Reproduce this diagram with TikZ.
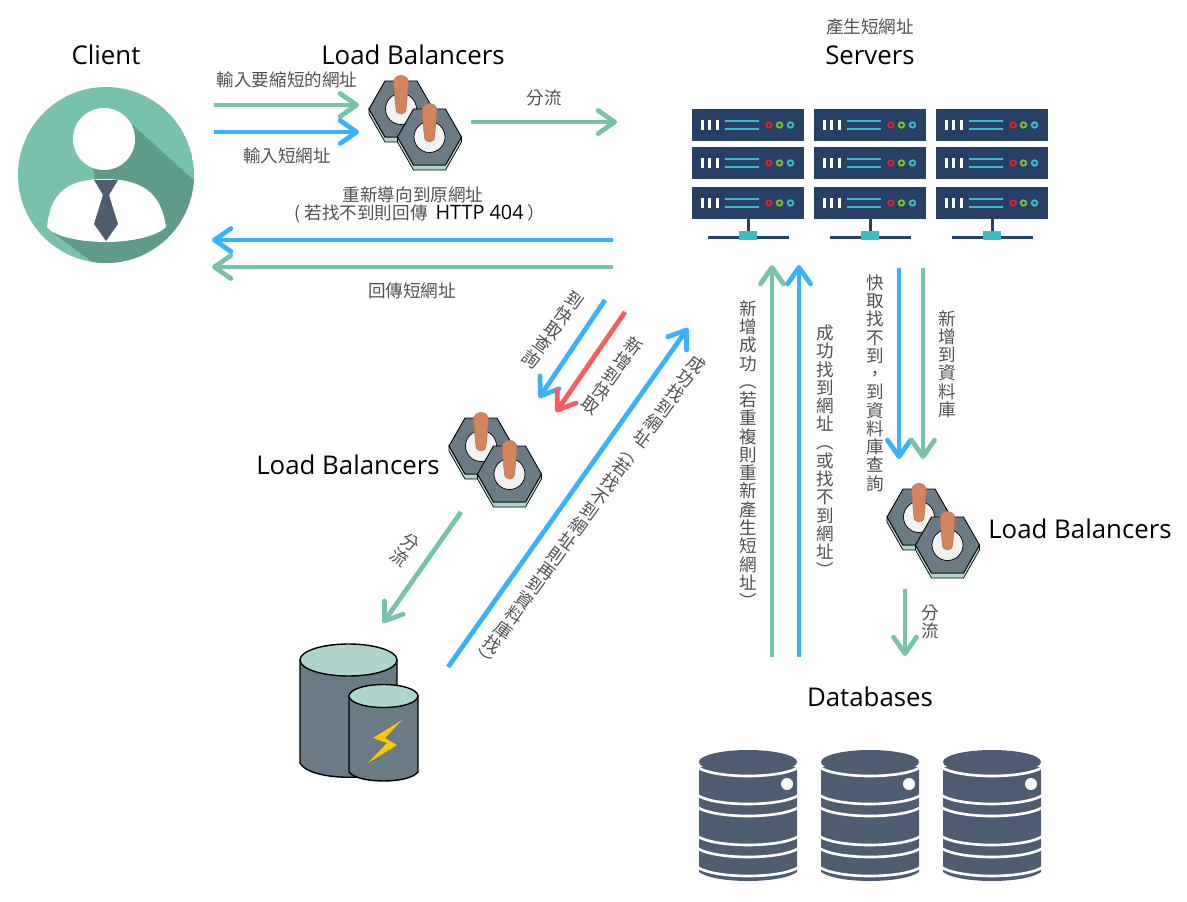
\documentclass[tikz,border=0pt]{standalone}
\usepackage{fontspec}
\setmainfont{Open Sans}
\newfontfamily\cjk{Noto Sans CJK TC}
\usetikzlibrary{arrows.meta}

\definecolor{flowgreen}{HTML}{78C2AD}
\definecolor{flowblue}{HTML}{38B1FF}
\definecolor{flowred}{HTML}{FF5A5F}
\definecolor{shadegreen}{HTML}{5F9B8A}
\definecolor{slate}{HTML}{4F5D73}
\definecolor{steel}{HTML}{6A7B85}
\definecolor{pale}{HTML}{AED5CB}
\definecolor{rack}{HTML}{274166}
\definecolor{teal}{HTML}{3ABCC7}
\definecolor{lever}{HTML}{D4845A}
\definecolor{lampred}{HTML}{D9262E}
\definecolor{lampgreen}{HTML}{82BE28}
\definecolor{bolt}{HTML}{FFC800}
\definecolor{txtgray}{HTML}{505050}

\newcommand{\opar}{\rotatebox[origin=c]{-90}{（}}
\newcommand{\cpar}{\rotatebox[origin=c]{-90}{）}}

\tikzset{
  flow/.style={line width=0.095cm, draw=#1, -{Straight Barb[length=0.33cm, width=0.46cm, line width=0.095cm, round]}},
  title/.style={font=\fontsize{14.7}{17}\selectfont, inner sep=0pt},
  hlabel/.style={font={\cjk\fontsize{10}{11}\selectfont}, text=txtgray, inner sep=0pt},
  vlabel/.style={font={\cjk\fontsize{10}{10.4}\selectfont\lineskiplimit=-20pt}, text=txtgray, inner sep=0pt, align=center},
  pics/lbhex/.style={code={
    \filldraw[fill=pale, line width=0.4pt] (-32,0) -- (-32,5) -- (-16,33) -- (16,33) -- (32,5) -- (32,0) -- (16,28) -- (-16,28) -- cycle;
    \filldraw[fill=steel, line width=0.5pt] (-32,0) -- (-16,-28) -- (16,-28) -- (32,0) -- (16,28) -- (-16,28) -- cycle;
    \filldraw[fill=black!5, line width=0.4pt] (0,0) circle [radius=15.5];
    \filldraw[fill=lever, draw=lever!85!black, line width=0.3pt] (-7.5,-26) .. controls (-7.5,-36) and (7.5,-36) .. (7.5,-26) -- (5,0) .. controls (5,6.5) and (-5,6.5) .. (-5,0) -- cycle;
  }},
  pics/lbalancer/.style={code={
    \pic at (0,0) {lbhex};
    \pic at (28.5,28) {lbhex};
  }},
  pics/rackunit/.style={code={
    \fill[rack] (0,0) rectangle (112,32);
    \foreach \x in {10,17.5,25} \fill[white] (\x-1.5,11) rectangle (\x+1.5,21);
    \fill[teal] (33,11) rectangle (67,13);
    \fill[teal] (33,19) rectangle (67,21);
    \filldraw[draw=lampred, fill=rack, line width=1.1pt] (77,16) circle [radius=2.7];
    \filldraw[draw=lampgreen, fill=rack, line width=1.1pt] (87.5,16) circle [radius=2.7];
    \filldraw[draw=teal, fill=rack, line width=1.1pt] (98.5,16) circle [radius=2.7];
  }},
  pics/server/.style={code={
    \pic at (0,0) {rackunit};
    \pic at (0,38) {rackunit};
    \pic at (0,78) {rackunit};
    \fill[rack] (55,110) rectangle (57.5,128);
    \fill[rack] (16,127.5) rectangle (97,130.5);
    \fill[teal] (47,122) rectangle (65,131);
  }},
  pics/dbstack/.style={code={
    % coordinates from the centre of the top disc
    \fill[slate] (-49,5) -- (-49,110) .. controls (-33,122) and (33,122) .. (49,110) -- (49,5) -- cycle;
    \fill[slate] (0,0) ellipse [x radius=49, y radius=12];
    \foreach \y in {5,33,45,74,86,105}
      \draw[white, line width=1.5pt] (-51,\y) .. controls (-33,\y+12) and (33,\y+12) .. (51,\y);
    \fill[white] (39,22) circle [radius=6];
  }}
}

\begin{document}
\begin{tikzpicture}[x=0.02cm, y=-0.02cm]
  \useasboundingbox (0,0) rectangle (1187,902);

  % client
  \begin{scope}
    \clip (106,175) circle [radius=88];
    \fill[flowgreen] (106,175) circle [radius=88];
    \fill[shadegreen] (93,170) -- (133,125) -- (200,186) -- (200,280) -- (95,264) -- (53,233) -- (100,200) -- cycle;
  \end{scope}
  \fill[white] (104,139) circle [radius=31];
  \fill[white] (47,227) .. controls (50,200) and (60,179) .. (104,179) .. controls (150,179) and (162,200) .. (166,227) .. controls (155,238) and (125,242) .. (107,242) .. controls (85,242) and (55,238) .. (47,227) -- cycle;
  \fill[slate] (94,180) -- (118,180) -- (109,195) -- (118,224) -- (106,241) -- (94,224) -- (103,195) -- cycle;
  \node[title] (clientname) at (106,55) {Client};

  % load balancers
  \pic at (401,109) {lbalancer};
  \node[title] (lbtop) at (413,55) {Load Balancers};
  \pic at (481,446) {lbalancer};
  \node[title] (lbmid) at (348,465) {Load Balancers};
  \pic at (919,517) {lbalancer};
  \node[title] (lbright) at (1080,529) {Load Balancers};

  % servers
  \node[hlabel] (makeurl) at (870,27) {產生短網址};
  \node[title] (srvname) at (870,55) {Servers};
  \foreach \x in {692,814,936}
    \pic at (\x,109) {server};

  % databases
  \node[title] (dbname) at (870,697) {Databases};
  \foreach \x in {748,870,992}
    \pic at (\x,762) {dbstack};

  % cache
  \filldraw[fill=steel, line width=0.8pt] (300,660) -- (300,763) .. controls (310,782) and (387,782) .. (397,763) -- (397,660) -- cycle;
  \filldraw[fill=pale, line width=0.8pt] (348.5,660) ellipse [x radius=48.5, y radius=16];
  \filldraw[fill=steel, line width=0.8pt] (349,696) -- (349,772) .. controls (358,784) and (409,784) .. (418,772) -- (418,696) -- cycle;
  \filldraw[fill=pale, line width=0.8pt] (383.5,696) ellipse [x radius=34.5, y radius=11.5];
  \fill[bolt] (402,720) -- (373,738) -- (387,743) -- (368,763) -- (397,745) -- (385,738) -- cycle;

  % arrow ends
  \coordinate (inA) at (214,105);  \coordinate (lbA) at (359,105);
  \coordinate (inB) at (214,132);  \coordinate (lbB) at (359,132);
  \coordinate (lbC) at (471,122);  \coordinate (srvC) at (617,122);
  \coordinate (srvD) at (613,240); \coordinate (outD) at (212,240);
  \coordinate (srvE) at (613,267); \coordinate (outE) at (212,267);
  \coordinate (srvF) at (605,300); \coordinate (lbF) at (539,398);
  \coordinate (srvG) at (625,312); \coordinate (lbG) at (556,412);
  \coordinate (dbH) at (448,667);  \coordinate (srvH) at (688,328);
  \coordinate (lbI) at (461,512);  \coordinate (dbI) at (383,623);
  \coordinate (dbJ) at (772,657);  \coordinate (srvJ) at (772,265);
  \coordinate (dbK) at (799,657);  \coordinate (srvK) at (799,265);
  \coordinate (srvL) at (899,268); \coordinate (lbL) at (899,459);
  \coordinate (srvM) at (923,268); \coordinate (lbM) at (923,459);
  \coordinate (lbN) at (905,589);  \coordinate (dbN) at (905,656);

  \draw[flow=flowgreen] (inA) -- (lbA);
  \draw[flow=flowblue] (inB) -- (lbB);
  \draw[flow=flowgreen] (lbC) -- (srvC);
  \draw[flow=flowblue] (srvD) -- (outD);
  \draw[flow=flowgreen] (srvE) -- (outE);
  \draw[flow=flowblue] (srvF) -- (lbF);
  \draw[flow=flowred] (srvG) -- (lbG);
  \draw[flow=flowblue] (dbH) -- (srvH);
  \draw[flow=flowgreen] (lbI) -- (dbI);
  \draw[flow=flowgreen] (dbJ) -- (srvJ);
  \draw[flow=flowblue] (dbK) -- (srvK);
  \draw[flow=flowblue] (srvL) -- (lbL);
  \draw[flow=flowgreen] (srvM) -- (lbM);
  \draw[flow=flowgreen] (lbN) -- (dbN);

  % labels
  \node[hlabel] (txtA) at (287,80) {輸入要縮短的網址};
  \node[hlabel] (txtB) at (287,156) {輸入短網址};
  \node[hlabel] (txtC) at (544,98) {分流};
  \node[hlabel] (txtD) at (413,195) {重新導向到原網址};
  \node[hlabel] (txtDb) at (420,214) {( 若找不到則回傳\ \ {\fontsize{11.3}{13}\rmfamily\color{black}HTTP 404} ）};
  \node[hlabel] (txtE) at (412,291) {回傳短網址};

  \node[vlabel, rotate=-36] (txtF) at (553,330) {到\\快\\取\\查\\詢};
  \node[vlabel, rotate=-36] (txtG) at (612,376) {新\\增\\到\\快\\取};
  \node[vlabel, rotate=-36] (txtH) at (589,512) {成\\功\\找\\到\\網\\址\\\opar\\若\\找\\不\\到\\網\\址\\則\\再\\到\\資\\料\\庫\\找\\\cpar};
  \node[vlabel, rotate=-36] (txtI) at (405,550) {分\\流};

  \node[vlabel] (txtJ) at (748,455) {新\\增\\成\\功\\\opar\\若\\重\\複\\則\\重\\新\\產\\生\\短\\網\\址\\\cpar};
  \node[vlabel] (txtK) at (825,452) {成\\功\\找\\到\\網\\址\\\opar\\或\\找\\不\\到\\網\\址\\\cpar};
  \node[vlabel] (txtL) at (875,383) {快\\取\\找\\不\\到\\，\\到\\資\\料\\庫\\查\\詢};
  \node[vlabel] (txtM) at (947,364) {新\\增\\到\\資\\料\\庫};
  \node[vlabel] (txtN) at (930,622) {分\\流};
\end{tikzpicture}
\end{document}
